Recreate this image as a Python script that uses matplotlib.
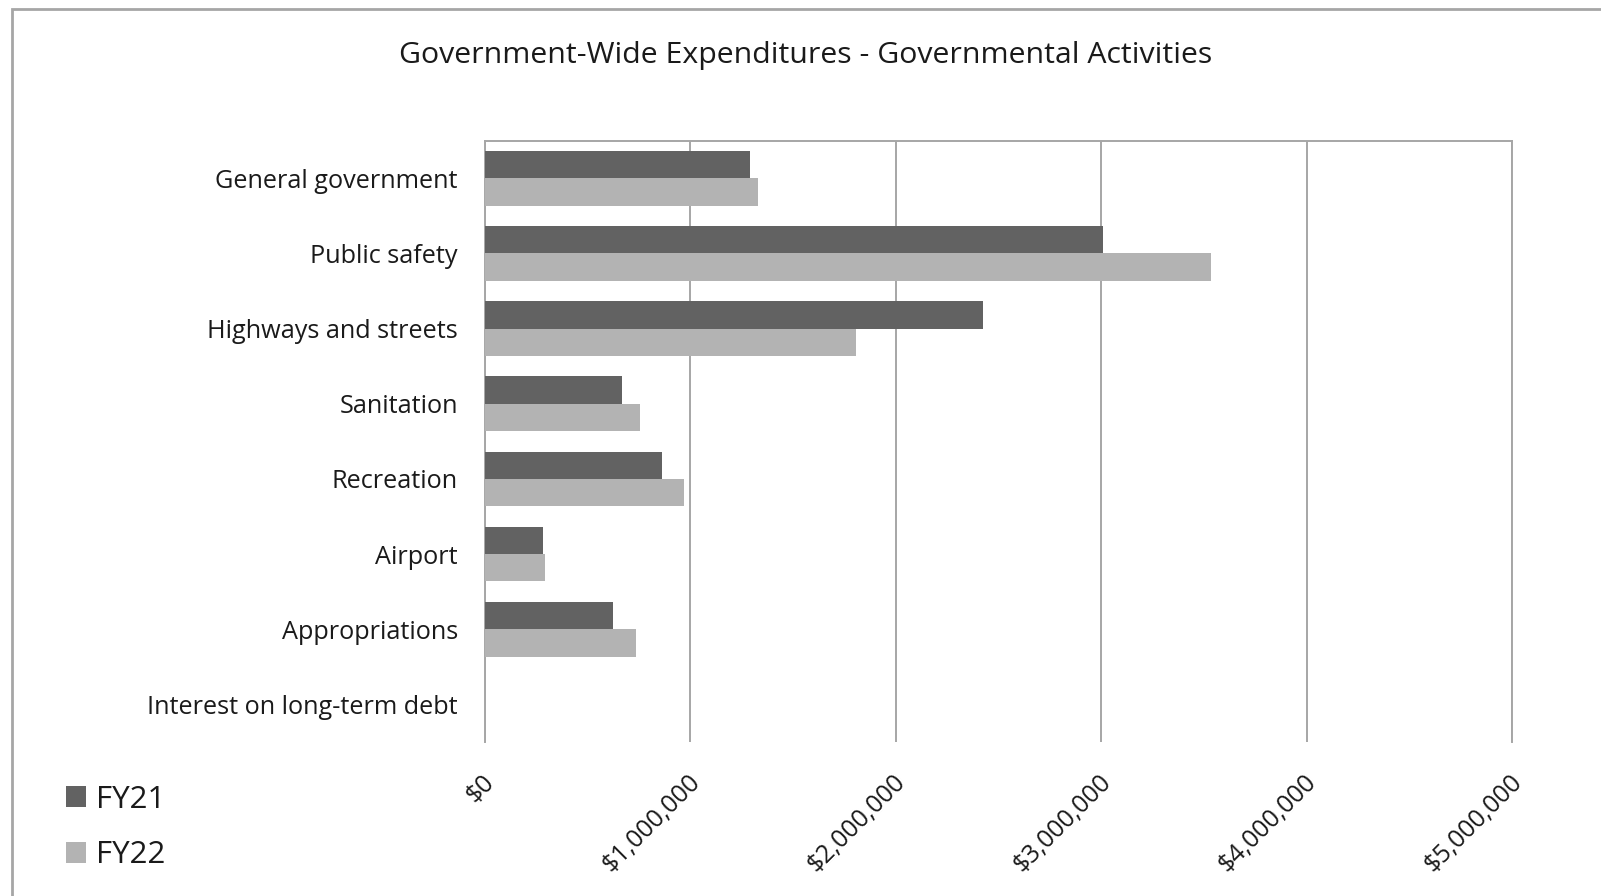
import matplotlib
matplotlib.use("Agg")
import matplotlib.pyplot as plt
import matplotlib.transforms as mtransforms
from matplotlib.patches import Rectangle, Patch
from matplotlib.ticker import FuncFormatter
import numpy as np

plt.rcParams['font.family'] = ['Open Sans', 'DejaVu Sans']

categories = ["General government", "Public safety", "Highways and streets", "Sanitation",
              "Recreation", "Airport", "Appropriations", "Interest on long-term debt"]
fy21 = [1288000, 3009000, 2424000, 666000, 859000, 283000, 624000, 0]
fy22 = [1327000, 3531000, 1805000, 755000, 968000, 293000, 736000, 0]
series_names = ["FY21", "FY22"]
xticks = [0, 1000000, 2000000, 3000000, 4000000, 5000000]

c21 = "#626262"
c22 = "#b3b3b3"
grid_c = "#a6a6a6"
txt_c = "#1a1a1a"

W, H = 1601, 896
fig = plt.figure(figsize=(W / 100, H / 100), dpi=100)

# outer chart frame
fig.patches.append(Rectangle((11.7 / W, -0.05), 1.2, 1 - 9.3 / H + 0.05,
                             transform=fig.transFigure, fill=False,
                             edgecolor=grid_c, linewidth=2.0))

left, right, top, bottom = 485 / W, 1512.4 / W, 1 - 140.7 / H, 1 - 742 / H
ax = fig.add_axes([left, bottom, right - left, top - bottom])

y = np.arange(len(categories))
h = 0.363
ax.barh(y - h / 2, fy21, height=h, color=c21, linewidth=0,
        label=series_names[0], zorder=3)
ax.barh(y + h / 2, fy22, height=h, color=c22, linewidth=0,
        label=series_names[1], zorder=3)

ax.set_ylim(len(categories) - 0.5, -0.5)
ax.set_xlim(0, 5000000)
ax.set_xticks(xticks)
ax.xaxis.set_major_formatter(FuncFormatter(lambda v, p: "${:,.0f}".format(v)))
ax.set_yticks(y)
ax.set_yticklabels(categories, fontsize=18.2, color=txt_c)
ax.tick_params(axis='y', length=0, pad=19.5)
ax.tick_params(axis='x', length=0, pad=20, labelsize=18, labelcolor=txt_c)
ax.grid(axis='x', color=grid_c, linewidth=1.4, zorder=0)
for s in ['top', 'left', 'right']:
    ax.spines[s].set_color(grid_c)
    ax.spines[s].set_linewidth(1.4)
ax.spines['bottom'].set_visible(False)

offset = mtransforms.ScaledTranslation(-3 / 100, 0, fig.dpi_scale_trans)
for lab in ax.get_xticklabels():
    lab.set_rotation(45)
    lab.set_ha('right')
    lab.set_va('top')
    lab.set_rotation_mode('anchor')
    lab.set_transform(lab.get_transform() + offset)

fig.text(806 / W, 1 - 55 / H, "Government-Wide Expenditures - Governmental Activities",
         ha='center', va='center', fontsize=21.8, color=txt_c)

handles = [Patch(facecolor=c21), Patch(facecolor=c22)]
fig.legend(handles, series_names, loc='upper left', bbox_to_anchor=(66 / W, 1 - 784.5 / H),
           frameon=False, fontsize=22.5, handlelength=0.65, handleheight=0.65,
           handletextpad=0.3, labelspacing=0.83, labelcolor=txt_c,
           borderpad=0, borderaxespad=0)

fig.savefig("out.png", dpi=100, facecolor="white")
